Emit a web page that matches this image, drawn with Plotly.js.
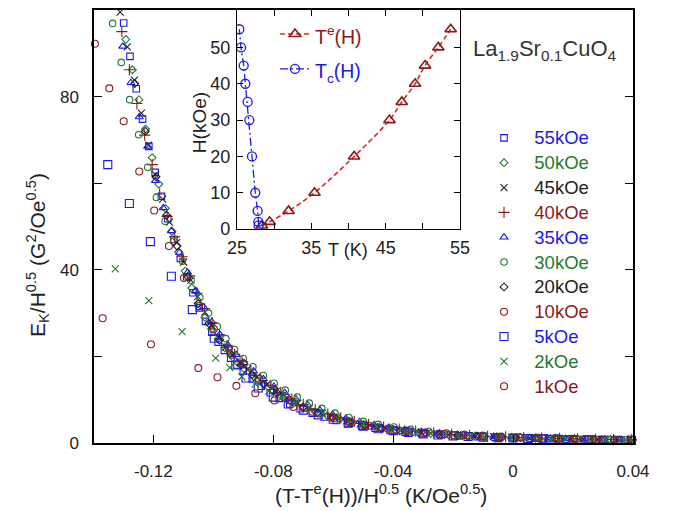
<!DOCTYPE html>
<html><head><meta charset="utf-8">
<script src="https://cdn.plot.ly/plotly-3.0.1.min.js"></script>
<style>html,body{margin:0;padding:0;background:#fff}#chart{width:679px;height:511px}</style>
</head><body><div id="chart"></div>
<script>
// ---- main panel data: (T - Te(H))/H^0.5 and E_K/H^0.5 per field ----
const fieldLabels = ['55kOe','50kOe','45kOe','40kOe','35kOe','30kOe','20kOe','10kOe','5kOe','2kOe','1kOe'];

const x55 = [-0.1299,-0.1278,-0.1257,-0.1236,-0.1215,-0.1194,-0.1173,-0.1152,-0.1131,-0.1110,-0.1089,-0.1068,-0.1047,-0.1026,-0.1005,-0.0984,-0.0963,-0.0942,-0.0921,-0.0900,-0.0870,-0.0840,-0.0810,-0.0780,-0.0745,-0.0710,-0.0670,-0.0630,-0.0590,-0.0550,-0.0505,-0.0460,-0.0410,-0.0360,-0.0300,-0.0240,-0.0180,-0.0120,-0.0060,0.0000,0.0060,0.0120,0.0180,0.0240,0.0300,0.0360];
const y55 = [97.0,89.3,81.8,74.8,68.5,62.5,57.0,51.8,47.0,42.6,38.4,34.7,31.2,28.1,25.6,23.3,21.4,19.6,18.0,16.6,14.8,13.1,11.6,10.3,9.0,7.9,6.9,6.0,5.2,4.5,3.9,3.4,2.9,2.5,2.15,1.85,1.65,1.45,1.3,1.2,1.1,1.0,0.9,0.8,0.75,0.7];

const x50 = [-0.1292,-0.1270,-0.1248,-0.1226,-0.1204,-0.1182,-0.1160,-0.1138,-0.1116,-0.1094,-0.1072,-0.1050,-0.1028,-0.1006,-0.0984,-0.0962,-0.0940,-0.0918,-0.0896,-0.0865,-0.0834,-0.0803,-0.0772,-0.0738,-0.0700,-0.0660,-0.0620,-0.0578,-0.0535,-0.0490,-0.0440,-0.0390,-0.0335,-0.0275,-0.0215,-0.0155,-0.0095,-0.0035,0.0025,0.0085,0.0145,0.0205,0.0265,0.0325,0.0385];
const y50 = [93.2,86.2,79.3,72.5,65.9,59.8,54.2,48.9,44.1,39.7,35.8,32.2,29.0,26.3,24.0,22.0,20.2,18.6,17.1,15.3,13.6,12.1,10.8,9.5,8.3,7.2,6.3,5.5,4.7,4.0,3.4,2.9,2.5,2.2,1.9,1.7,1.5,1.4,1.25,1.15,1.05,0.95,0.85,0.8,0.75];

const x45 = [-0.1311,-0.1287,-0.1263,-0.1240,-0.1216,-0.1193,-0.1169,-0.1146,-0.1122,-0.1099,-0.1075,-0.1052,-0.1028,-0.1005,-0.0981,-0.0958,-0.0934,-0.0911,-0.0887,-0.0855,-0.0822,-0.0790,-0.0755,-0.0718,-0.0680,-0.0640,-0.0598,-0.0555,-0.0510,-0.0462,-0.0412,-0.0360,-0.0305,-0.0245,-0.0185,-0.0125,-0.0065,-0.0005,0.0055,0.0115,0.0175,0.0235,0.0295,0.0355];
const y45 = [99.5,91.5,83.8,76.2,68.8,62.0,56.3,51.0,46.3,41.8,37.6,33.8,30.2,27.0,24.4,22.2,20.3,18.6,17.0,15.2,13.4,11.9,10.4,9.2,8.0,7.0,6.0,5.1,4.4,3.8,3.3,2.8,2.4,2.1,1.85,1.65,1.45,1.3,1.2,1.1,1.0,0.9,0.8,0.75];

const x40 = [-0.1305,-0.1280,-0.1255,-0.1229,-0.1204,-0.1179,-0.1154,-0.1129,-0.1104,-0.1079,-0.1054,-0.1029,-0.1004,-0.0979,-0.0954,-0.0929,-0.0904,-0.0875,-0.0843,-0.0810,-0.0775,-0.0738,-0.0700,-0.0660,-0.0618,-0.0575,-0.0530,-0.0482,-0.0432,-0.0380,-0.0325,-0.0265,-0.0205,-0.0145,-0.0085,-0.0025,0.0035,0.0095,0.0155,0.0215,0.0275,0.0335,0.0395];
const y40 = [95.0,86.2,78.4,71.1,64.3,57.5,52.3,47.6,43.0,38.6,34.6,31.0,27.8,25.0,22.5,20.5,18.8,16.9,15.0,13.3,11.7,10.2,8.9,7.7,6.7,5.8,5.0,4.3,3.7,3.2,2.75,2.35,2.0,1.75,1.55,1.4,1.25,1.15,1.05,0.95,0.85,0.8,0.72];

const x35 = [-0.1302,-0.1275,-0.1247,-0.1219,-0.1193,-0.1167,-0.1140,-0.1113,-0.1086,-0.1059,-0.1032,-0.1005,-0.0978,-0.0951,-0.0924,-0.0897,-0.0866,-0.0833,-0.0798,-0.0762,-0.0724,-0.0685,-0.0644,-0.0602,-0.0558,-0.0512,-0.0464,-0.0414,-0.0362,-0.0305,-0.0245,-0.0185,-0.0125,-0.0065,-0.0005,0.0055,0.0115,0.0175,0.0235,0.0295,0.0355];
const y35 = [91.6,83.2,75.3,68.5,60.6,54.3,49.0,44.0,39.4,35.2,31.4,28.0,25.1,22.6,20.4,18.5,16.6,14.8,13.1,11.6,10.1,8.8,7.6,6.6,5.7,4.9,4.2,3.6,3.1,2.65,2.25,1.95,1.7,1.5,1.35,1.2,1.1,1.0,0.9,0.8,0.75];

const x30 = [-0.1336,-0.1307,-0.1279,-0.1249,-0.1219,-0.1190,-0.1161,-0.1132,-0.1103,-0.1074,-0.1045,-0.1016,-0.0987,-0.0958,-0.0929,-0.0900,-0.0868,-0.0833,-0.0797,-0.0760,-0.0720,-0.0680,-0.0638,-0.0594,-0.0548,-0.0500,-0.0450,-0.0398,-0.0342,-0.0282,-0.0222,-0.0162,-0.0102,-0.0042,0.0018,0.0078,0.0138,0.0198,0.0258,0.0318,0.0378];
const y30 = [96.9,87.9,79.3,71.2,63.7,56.7,51.2,46.6,42.0,37.6,33.6,30.0,26.9,24.1,21.6,19.5,17.6,15.6,13.8,12.2,10.6,9.2,8.0,6.9,5.9,5.0,4.3,3.7,3.15,2.7,2.3,2.0,1.75,1.55,1.4,1.25,1.15,1.05,0.95,0.85,0.8];

const x20 = [-0.1262,-0.1227,-0.1191,-0.1156,-0.1121,-0.1085,-0.1050,-0.1015,-0.0979,-0.0944,-0.0908,-0.0870,-0.0830,-0.0788,-0.0745,-0.0700,-0.0652,-0.0602,-0.0550,-0.0495,-0.0438,-0.0378,-0.0315,-0.0250,-0.0185,-0.0120,-0.0055,0.0010,0.0075,0.0140,0.0205,0.0270,0.0335,0.0398];
const y20 = [83.0,72.0,61.5,52.6,45.5,38.4,32.2,27.6,23.8,20.7,18.0,15.8,13.6,11.6,9.9,8.3,7.0,5.9,4.9,4.1,3.4,2.85,2.4,2.05,1.8,1.6,1.4,1.25,1.15,1.05,0.95,0.85,0.78,0.72];

const x10 = [-0.1395,-0.1347,-0.1299,-0.1247,-0.1197,-0.1148,-0.1098,-0.1048,-0.0998,-0.0948,-0.0898,-0.0848,-0.0798,-0.0748,-0.0698,-0.0648,-0.0598,-0.0548,-0.0498,-0.0448,-0.0398,-0.0348,-0.0298,-0.0248,-0.0198,-0.0148,-0.0098,-0.0048,0.0002,0.0052,0.0102,0.0152,0.0202,0.0252,0.0302,0.0352];
const y10 = [92.2,81.9,74.3,62.7,53.7,45.5,38.1,31.6,26.3,21.8,18.3,14.9,12.2,9.9,8.1,6.8,5.8,4.9,4.1,3.5,3.0,2.6,2.3,2.0,1.8,1.6,1.45,1.35,1.25,1.15,1.05,0.95,0.9,0.82,0.76,0.7];

const x5 = [-0.1352,-0.1280,-0.1210,-0.1140,-0.1070,-0.0997,-0.0925,-0.0891,-0.0850,-0.0800,-0.0750,-0.0700,-0.0650,-0.0600,-0.0550,-0.0500,-0.0450,-0.0400,-0.0350,-0.0300,-0.0250,-0.0200,-0.0150,-0.0100,-0.0050,0.0000,0.0050,0.0100,0.0150,0.0200,0.0250,0.0300,0.0350,0.0395];
const y5 = [64.3,55.3,46.5,38.5,30.8,24.2,18.0,15.0,12.7,10.6,9.0,7.6,6.5,5.5,4.6,3.9,3.3,2.85,2.45,2.1,1.85,1.65,1.5,1.35,1.25,1.15,1.05,0.95,0.88,0.8,0.75,0.7,0.65,0.6];

const x2 = [-0.1327,-0.1215,-0.1104,-0.0992,-0.0945,-0.0905,-0.0860,-0.0815,-0.0770,-0.0725,-0.0680,-0.0635,-0.0590,-0.0545,-0.0500,-0.0455,-0.0410,-0.0365,-0.0320,-0.0275,-0.0230,-0.0185,-0.0140,-0.0095,-0.0050,-0.0005,0.0040,0.0085,0.0130,0.0175,0.0220,0.0265,0.0310,0.0355,0.0395];
const y2 = [40.2,32.9,25.7,19.6,17.4,15.3,13.6,12.0,10.6,9.2,8.0,6.9,6.0,5.2,4.5,3.9,3.35,2.9,2.55,2.25,2.0,1.8,1.6,1.45,1.35,1.25,1.15,1.05,0.95,0.9,0.82,0.76,0.7,0.66,0.6];

const x1 = [-0.1369,-0.1208,-0.1050,-0.0986,-0.0923,-0.0860,-0.0796,-0.0733,-0.0670,-0.0607,-0.0544,-0.0481,-0.0418,-0.0355,-0.0292,-0.0229,-0.0166,-0.0103,-0.0040,0.0023,0.0086,0.0149,0.0212,0.0275,0.0338,0.0395];
const y1 = [28.8,22.8,17.3,15.2,13.2,11.5,9.8,8.3,7.2,5.9,4.8,4.0,3.3,2.8,2.4,2.05,1.8,1.55,1.4,1.25,1.1,1.0,0.9,0.8,0.75,0.7];

// ---- inset data: H (kOe) vs T (K) ----
const insetH = [1,2,5,10,20,30,35,40,45,50,55];
const TeT = [28.36,29.39,31.94,35.43,40.76,45.51,47.17,48.96,50.30,52.09,53.75];
const TcT = [27.91,27.87,27.78,27.46,27.02,26.66,26.43,26.12,25.90,25.54,25.31];

// ---- axis tick labels ----
const xTickVals = [-0.12,-0.08,-0.04,0,0.04];
const xTickText = ['-0.12','-0.08','-0.04','0','0.04'];
const yTickVals = [0,40,80];
const yTickText = ['0','40','80'];
const insetXVals = [25,35,45,55];
const insetXText = ['25','35','45','55'];
const insetYVals = [0,10,20,30,40,50];

const BLUE = '#1a1ae8', GREEN = '#1e7a2c', BLACK = '#222222', DRED = '#8b1a1a';
const FONT = 'Liberation Sans, Arial, Helvetica, sans-serif';

const seriesX = [x55,x50,x45,x40,x35,x30,x20,x10,x5,x2,x1];
const seriesY = [y55,y50,y45,y40,y35,y30,y20,y10,y5,y2,y1];
const styles = [
  {c:BLUE, s:'square-open', z:6.5},
  {c:GREEN, s:'diamond-open', z:6},
  {c:BLACK, s:'x-thin-open', z:7},
  {c:DRED, s:'cross-thin-open', z:8},
  {c:BLUE, s:'triangle-up-open', z:7},
  {c:GREEN, s:'circle-open', z:6.5},
  {c:BLACK, s:'diamond-open', z:6},
  {c:DRED, s:'circle-open', z:7},
  {c:BLUE, s:'square-open', z:8},
  {c:GREEN, s:'x-thin-open', z:7},
  {c:DRED, s:'circle-open', z:7}
];

const traces = [];
for (let i = 0; i < fieldLabels.length; i++) {
  const st = styles[i];
  traces.push({
    type:'scatter', mode:'markers', x:seriesX[i], y:seriesY[i], xaxis:'x', yaxis:'y',
    name:'<span style="color:'+st.c+';font-size:18.5px">\u00a0\u00a0'+fieldLabels[i]+'</span>',
    marker:{symbol:st.s, size:st.z, color:st.c, line:{color:st.c, width:1.1}},
    legend:'legend', cliponaxis:false
  });
}
traces.push({
  type:'scatter', mode:'lines+markers', x:TeT, y:insetH, xaxis:'x2', yaxis:'y2',
  name:'<span style="color:'+DRED+';font-size:19.5px">T<sup>e</sup>(H)</span>',
  line:{color:'#e02424', width:1.6, dash:'5px,3px', shape:'spline'},
  marker:{symbol:'triangle-up-open', size:10, color:DRED, line:{color:DRED, width:1.6}},
  legend:'legend2', legendgroup:'a'
});
traces.push({
  type:'scatter', mode:'lines+markers', x:TcT, y:insetH, xaxis:'x2', yaxis:'y2',
  name:'<span style="color:'+BLUE+';font-size:19.5px">T<sub>c</sub>(H)</span>',
  line:{color:BLUE, width:1.3, dash:'8px,3px,2px,3px'},
  marker:{symbol:'circle-open', size:9, color:BLUE, line:{color:BLUE, width:1.3}},
  legend:'legend2', legendgroup:'b'
});

const axisCommon = {showgrid:false, zeroline:false, showline:true, linecolor:'#000', ticks:'inside', tickcolor:'#000',
  tickfont:{family:FONT, size:17, color:'#222'}};

const layout = {
  width:679, height:511,
  margin:{l:94, r:46, t:10, b:68, pad:0},
  paper_bgcolor:'#fff', plot_bgcolor:'#fff',
  font:{family:FONT, color:'#222'},
  showlegend:true,
  xaxis: Object.assign({}, axisCommon, {domain:[0,1], range:[-0.1398,0.04], tickmode:'array', tickvals:xTickVals, ticktext:xTickText,
    linewidth:1.6, ticklen:8, mirror:true, ticklabelstandoff:12}),
  yaxis: Object.assign({}, axisCommon, {domain:[0,1], range:[0,100], tickmode:'array', tickvals:yTickVals, ticktext:yTickText,
    linewidth:1.6, ticklen:8, mirror:'ticks', ticklabelstandoff:10,
    minor:{tickmode:'array', tickvals:[20,60], ticks:'inside', ticklen:8, tickcolor:'#000', showgrid:false}}),
  xaxis2: Object.assign({}, axisCommon, {domain:[0.2653,0.679], anchor:'y2', range:[25,55], tickmode:'array', tickvals:insetXVals, ticktext:insetXText,
    linewidth:1.2, ticklen:6, mirror:'ticks', tickfont:{family:FONT, size:18, color:'#222'}, ticklabelstandoff:2,
    minor:{tickmode:'array', tickvals:[30,40,50], ticks:'inside', ticklen:6, tickcolor:'#000', showgrid:false}}),
  yaxis2: Object.assign({}, axisCommon, {domain:[0.494,1], anchor:'x2', range:[0,60.3], tickmode:'array', tickvals:insetYVals,
    linewidth:1.2, ticklen:6, mirror:'ticks', tickfont:{family:FONT, size:18, color:'#222'}, ticklabelstandoff:2}),
  legend:{x:0.7236, y:0.745, xanchor:'left', yanchor:'top', bgcolor:'rgba(0,0,0,0)', borderwidth:0,
    font:{family:FONT, size:16.8, color:'#222'}, itemclick:false},
  legend2:{x:0.3358, y:0.9963, xanchor:'left', yanchor:'top', bgcolor:'rgba(0,0,0,0)', borderwidth:0,
    font:{family:FONT, size:24.5, color:'#222'}, tracegroupgap:0},
  annotations:[
    {xref:'paper', yref:'paper', x:0.837, y:0.9076, xanchor:'center', yanchor:'middle', showarrow:false,
      text:'La<sub>1.9</sub>Sr<sub>0.1</sub>CuO<sub>4</sub>', font:{family:FONT, size:22, color:'#333'}},
    {xref:'paper', yref:'paper', x:-0.106, y:0.434, xanchor:'center', yanchor:'middle', showarrow:false, textangle:-90,
      text:'E<sub>K</sub>/H<sup>0.5</sup> (G<sup>2</sup>/Oe<sup>0.5</sup>)', font:{family:FONT, size:21, color:'#222'}},
    {xref:'paper', yref:'paper', x:0.532, y:-0.1175, xanchor:'center', yanchor:'middle', showarrow:false,
      text:'(T-T<sup>e</sup>(H))/H<sup>0.5</sup> (K/Oe<sup>0.5</sup>)', font:{family:FONT, size:21, color:'#222'}},
    {xref:'paper', yref:'paper', x:0.471, y:0.4457, xanchor:'center', yanchor:'middle', showarrow:false,
      text:'T (K)', font:{family:FONT, size:18, color:'#222'}},
    {xref:'paper', yref:'paper', x:0.1948, y:0.741, xanchor:'center', yanchor:'middle', showarrow:false, textangle:-90,
      text:'H(kOe)', font:{family:FONT, size:19, color:'#222'}}
  ]
};

Plotly.newPlot('chart', traces, layout, {displayModeBar:false, staticPlot:true});
</script></body></html>
